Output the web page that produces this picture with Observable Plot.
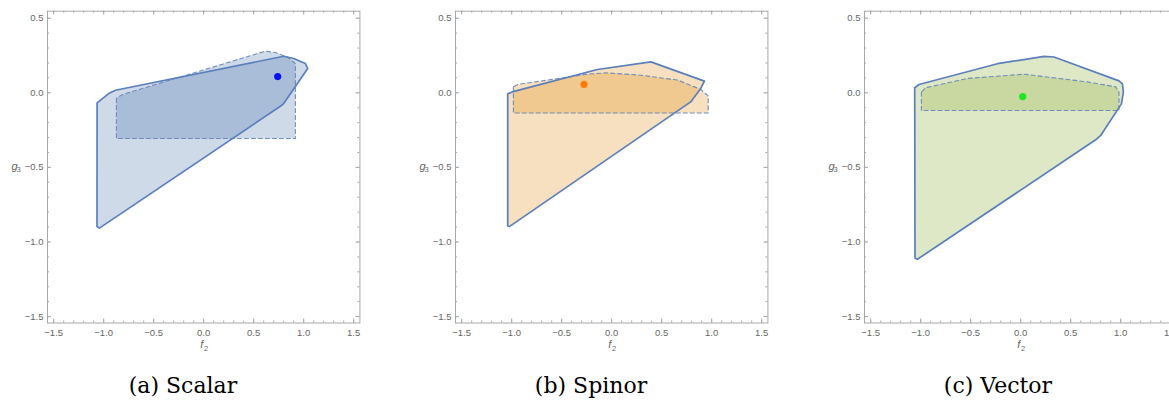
<!DOCTYPE html>
<html><head><meta charset="utf-8">
<script src="https://cdn.jsdelivr.net/npm/d3@7"></script>
<script src="https://cdn.jsdelivr.net/npm/@observablehq/plot@0.6"></script>
<style>
html,body{margin:0;padding:0;background:#fff;overflow:hidden;}
#wrap{position:relative;width:1169px;height:401px;overflow:hidden;background:#fff;}
.panel{position:absolute;top:0;}
#caps{position:absolute;left:0;top:0;pointer-events:none;}
</style></head><body><div id="wrap"></div>
<script>
// ---- data ----
const captions = ["(a) Scalar", "(b) Spinor", "(c) Vector"];
const xTickValues = [-1.5, -1.0, -0.5, 0.0, 0.5, 1.0, 1.5];
const yTickValues = [-1.5, -1.0, -0.5, 0.0, 0.5];
const xMinorTicks = [-1.5,-1.4,-1.3,-1.2,-1.1,-1.0,-0.9,-0.8,-0.7,-0.6,-0.5,-0.4,-0.3,-0.2,-0.1,0,0.1,0.2,0.3,0.4,0.5,0.6,0.7,0.8,0.9,1.0,1.1,1.2,1.3,1.4,1.5];
const yMinorTicks = [-1.5,-1.4,-1.3,-1.2,-1.1,-1.0,-0.9,-0.8,-0.7,-0.6,-0.5,-0.4,-0.3,-0.2,-0.1,0,0.1,0.2,0.3,0.4,0.5];

// Scalar
const scalarOuter = [[-1.066,-0.068],[-0.95,-0.005],[-0.883,0.017],[0.80,0.245],[0.90,0.230],[1.017,0.196],[1.04,0.163],[0.80,-0.072],[0.767,-0.090],[-1.043,-0.907],[-1.067,-0.896]];
const scalarInner = [[-0.873,-0.038],[-0.873,-0.306],[0.917,-0.306],[0.917,0.196],[0.833,0.241],[0.717,0.270],[0.617,0.279],[-0.80,-0.009],[-0.85,-0.025]];
const scalarPoint = [[0.74,0.109]];
// Spinor
const spinorOuter = [[-1.04,-0.007],[-0.995,0.006],[-0.143,0.156],[0.392,0.207],[0.927,0.078],[0.89,0.029],[0.79,-0.061],[-1.02,-0.895],[-1.04,-0.893]];
const spinorInner = [[-0.983,0.04],[-0.983,-0.135],[0.965,-0.135],[0.965,-0.021],[0.892,0.022],[0.66,0.085],[0.293,0.118],[-0.06,0.134],[-0.24,0.125],[-0.94,0.056]];
const spinorPoint = [[-0.277,0.056]];
// Vector
const vectorOuter = [[-1.06,0.034],[-1.017,0.056],[-0.233,0.195],[0.233,0.244],[0.333,0.24],[0.983,0.08],[1.017,0.06],[1.027,0.004],[1.007,-0.074],[0.80,-0.286],[0.75,-0.315],[-1.033,-1.116],[-1.057,-1.107]];
const vectorInner = [[-0.993,0.004],[-0.993,-0.119],[0.983,-0.119],[0.983,0.004],[0.95,0.04],[0.667,0.073],[0.033,0.125],[-0.533,0.096],[-0.95,0.034]];
const vectorPoint = [[0.02,-0.025]];

// ---- styling ----
const panels = [
  {outer: scalarOuter, inner: scalarInner, point: scalarPoint, fill: "rgb(46,94,159)", op: 0.23, dot: "#0a10f5", x0: 203.3, cap: 183},
  {outer: spinorOuter, inner: spinorInner, point: spinorPoint, fill: "rgb(220,130,0)", op: 0.25, dot: "#ff7b0a", x0: 611.0, cap: 591},
  {outer: vectorOuter, inner: vectorInner, point: vectorPoint, fill: "rgb(156,186,81)", op: 0.33, dot: "#1ee61e", x0: 1020.0, cap: 998}
];
const xDom = [-1.562, 1.562];
const yDom = [-1.543, 0.547];
const W = 312.4, H = 311.8;
const mL = 60, mR = 10.6, mT = 10.7, mB = 42.5;
const fmt = d => d.toFixed(1).replace("-", "\u2212");
const grey = "#a8a8a8";
const labelColor = "#666";

const wrap = document.getElementById("wrap");
panels.forEach((p, i) => {
  const frameLeft = p.x0 - W / 2;
  const svg = Plot.plot({
    width: mL + W + mR,
    height: mT + H + mB,
    marginLeft: mL, marginRight: mR, marginTop: mT, marginBottom: mB,
    x: {domain: xDom, axis: null},
    y: {domain: yDom, axis: null},
    style: {fontFamily: "'Liberation Sans', Arial, sans-serif", background: "transparent"},
    marks: [
      Plot.line(p.outer, {x: d => d[0], y: d => d[1], curve: "linear-closed", fill: p.fill, fillOpacity: p.op, stroke: "none"}),
      Plot.line(p.inner, {x: d => d[0], y: d => d[1], curve: "linear-closed", fill: p.fill, fillOpacity: p.op, stroke: "none"}),
      Plot.line(p.inner, {x: d => d[0], y: d => d[1], curve: "linear-closed", stroke: "#6b89b6", strokeWidth: 1.1, strokeDasharray: "4,3", strokeOpacity: 0.95}),
      Plot.line(p.outer, {x: d => d[0], y: d => d[1], curve: "linear-closed", stroke: "#5b7fbc", strokeWidth: 1.7, strokeLinejoin: "round"}),
      Plot.dot(p.point, {x: d => d[0], y: d => d[1], r: 3.6, fill: p.dot, stroke: "none"}),
      Plot.frame({stroke: grey, strokeWidth: 1}),
      // major ticks inward on all four sides
      Plot.tickX(xTickValues, {x: d => d, insetTop: H - 4, stroke: grey}),
      Plot.tickX(xTickValues, {x: d => d, insetBottom: H - 4, stroke: grey}),
      Plot.tickY(yTickValues, {y: d => d, insetRight: W - 4, stroke: grey}),
      Plot.tickY(yTickValues, {y: d => d, insetLeft: W - 4, stroke: grey}),
      // minor ticks
      Plot.tickX(xMinorTicks, {x: d => d, insetTop: H - 2, stroke: grey}),
      Plot.tickX(xMinorTicks, {x: d => d, insetBottom: H - 2, stroke: grey}),
      Plot.tickY(yMinorTicks, {y: d => d, insetRight: W - 2, stroke: grey}),
      Plot.tickY(yMinorTicks, {y: d => d, insetLeft: W - 2, stroke: grey}),
      Plot.axisX(xTickValues, {anchor: "bottom", tickSize: 0, tickPadding: 6, tickFormat: fmt, fontSize: 9.5, color: labelColor, label: null}),
      Plot.axisY(yTickValues, {anchor: "left", tickSize: 0, tickPadding: 4, tickFormat: fmt, fontSize: 9.5, color: labelColor, label: null}),
      // axis labels with subscripts
      Plot.text(["f"], {frameAnchor: "bottom", dy: 25, dx: -2, text: d => d, fontStyle: "italic", fontSize: 11, fill: labelColor}),
      Plot.text(["2"], {frameAnchor: "bottom", dy: 28, dx: 2.5, text: d => d, fontSize: 7.5, fill: labelColor}),
      Plot.text(["g"], {frameAnchor: "left", dx: -36, dy: -1, text: d => d, fontStyle: "italic", fontSize: 11, fill: labelColor}),
      Plot.text(["3"], {frameAnchor: "left", dx: -31, dy: 2, text: d => d, fontSize: 7.5, fill: labelColor})
    ]
  });
  svg.classList.add("panel");
  svg.style.left = (frameLeft - mL) + "px";
  wrap.appendChild(svg);
});

// captions below the panels
const caps = d3.select(wrap).append("svg").attr("id", "caps").attr("width", 1169).attr("height", 401);
caps.selectAll("text").data(panels).join("text")
  .attr("x", d => d.cap).attr("y", 393)
  .attr("text-anchor", "middle")
  .attr("font-family", "'DejaVu Serif', serif")
  .attr("font-size", 22)
  .attr("fill", "#000")
  .text((d, i) => captions[i]);
</script>
</body></html>
